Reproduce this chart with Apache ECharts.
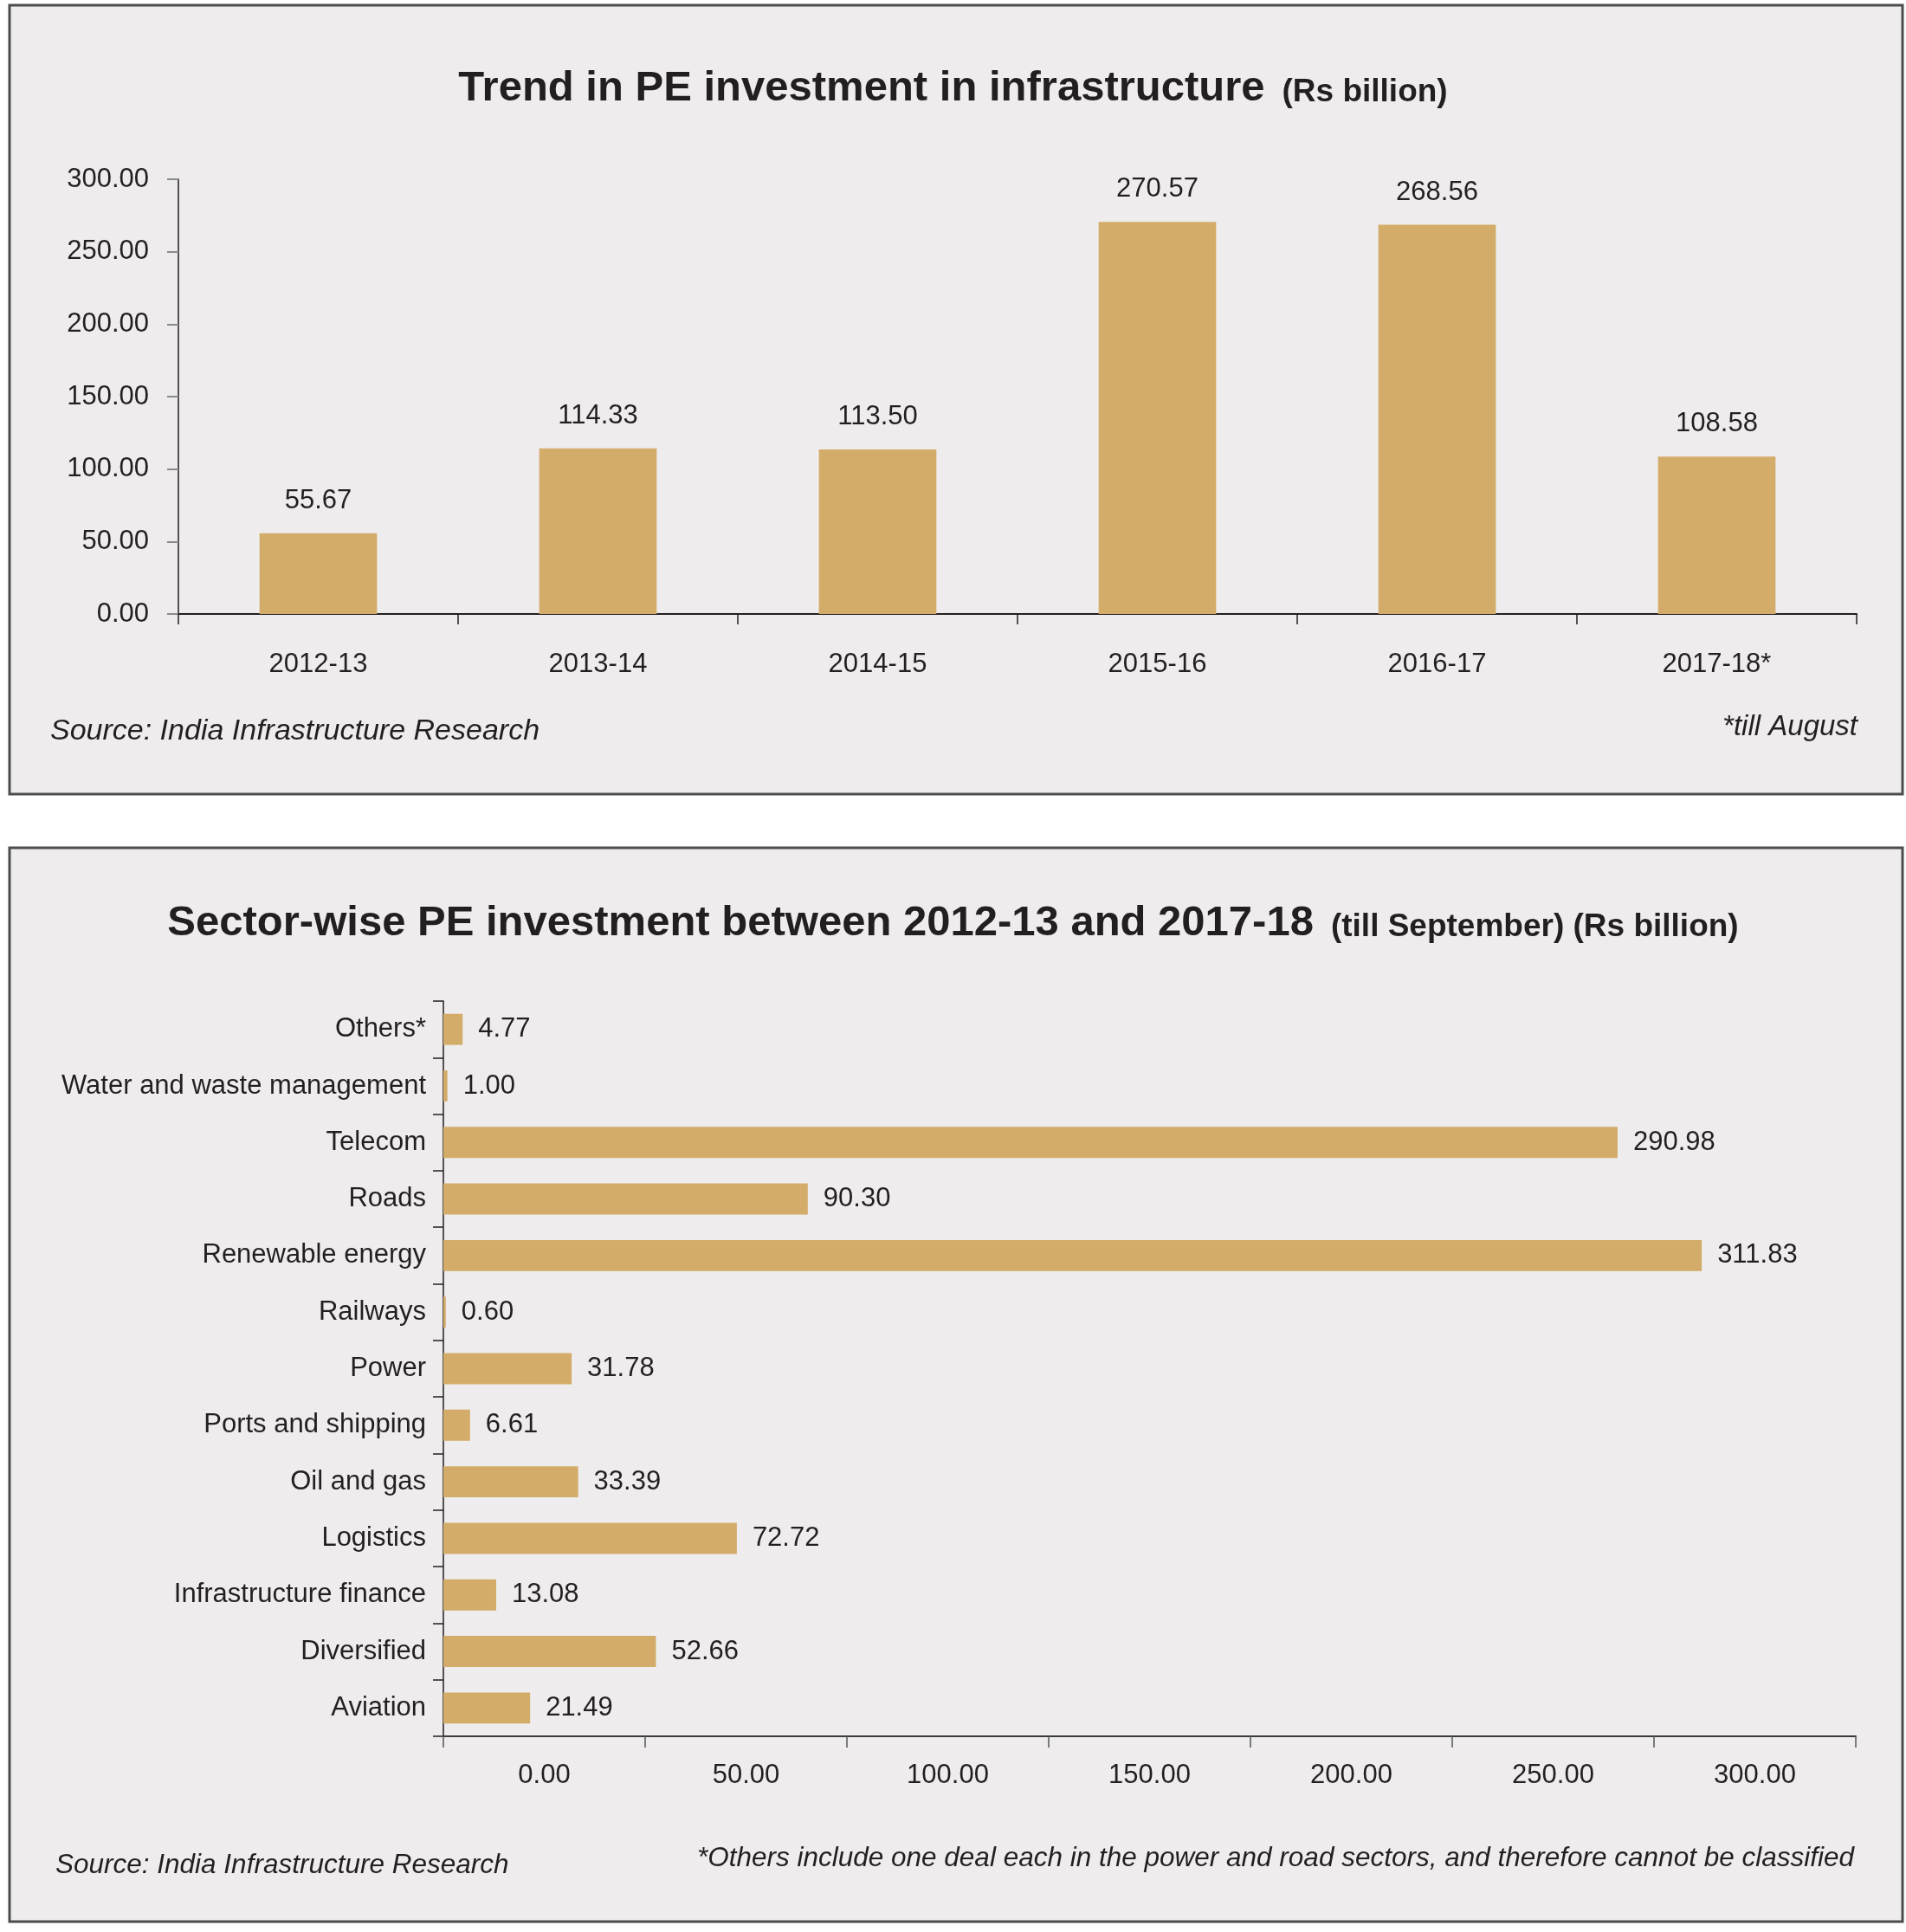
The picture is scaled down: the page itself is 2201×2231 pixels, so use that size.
<!DOCTYPE html>
<html>
<head>
<meta charset="utf-8">
<script src="https://cdn.jsdelivr.net/npm/echarts@6/dist/echarts.min.js"></script>
<style>
html,body{margin:0;padding:0;background:#ffffff;}
#chart{width:2201px;height:2231px;}
</style>
</head>
<body>
<div id="chart"></div>
<script>
// ---- Data ----
var yearCategories = ['2012-13', '2013-14', '2014-15', '2015-16', '2016-17', '2017-18*'];
var yearValues = [55.67, 114.33, 113.50, 270.57, 268.56, 108.58];

var sectorCategories = ['Others*', 'Water and waste management', 'Telecom', 'Roads', 'Renewable energy',
  'Railways', 'Power', 'Ports and shipping', 'Oil and gas', 'Logistics', 'Infrastructure finance',
  'Diversified', 'Aviation'];
var sectorValues = [4.77, 1.00, 290.98, 90.30, 311.83, 0.60, 31.78, 6.61, 33.39, 72.72, 13.08, 52.66, 21.49];

var topYTicks = [0, 50, 100, 150, 200, 250, 300];
var bottomXTicks = [0, 50, 100, 150, 200, 250, 300];

// ---- Styles ----
var FONT = "'Liberation Sans', Arial, sans-serif";
var TXT = '#231f20';
var BAR = '#d3ac69';
var PANEL = '#eeeced';

var chart = echarts.init(document.getElementById('chart'), null, {renderer: 'canvas'});

var titleRich = {
  a: {fontFamily: FONT, fontWeight: 'bold', fontSize: 49, color: TXT},
  b: {fontFamily: FONT, fontWeight: 'bold', fontSize: 37, color: TXT, padding: [9, 0, 0, 20]}
};

var option = {
  backgroundColor: '#ffffff',
  animation: false,
  graphic: [
    {type: 'rect', z: -10, shape: {x: 11, y: 6, width: 2186, height: 911},
     style: {fill: PANEL, stroke: '#4d4d4d', lineWidth: 3}},
    {type: 'rect', z: -10, shape: {x: 11, y: 979, width: 2186, height: 1240},
     style: {fill: PANEL, stroke: '#4d4d4d', lineWidth: 3}}
  ],
  title: [
    {
      text: '{a|Trend in PE investment in infrastructure}{b|(Rs billion)}',
      left: 'center', top: 73,
      textStyle: {rich: titleRich}
    },
    {
      text: '{a|Sector-wise PE investment between 2012-13 and 2017-18}{b|(till September) (Rs billion)}',
      left: 'center', top: 1037,
      textStyle: {rich: titleRich}
    },
    {text: 'Source: India Infrastructure Research', left: 53, top: 823,
     textStyle: {fontFamily: FONT, fontStyle: 'italic', fontWeight: 'normal', fontSize: 34, color: TXT}},
    {text: '*till August', right: 51, top: 818,
     textStyle: {fontFamily: FONT, fontStyle: 'italic', fontWeight: 'normal', fontSize: 33, color: TXT}},
    {text: 'Source: India Infrastructure Research', left: 59, top: 2133,
     textStyle: {fontFamily: FONT, fontStyle: 'italic', fontWeight: 'normal', fontSize: 31.5, color: TXT}},
    {text: '*Others include one deal each in the power and road sectors, and therefore cannot be classified', right: 55, top: 2125,
     textStyle: {fontFamily: FONT, fontStyle: 'italic', fontWeight: 'normal', fontSize: 31.5, color: TXT}}
  ],
  grid: [
    {left: 206, right: 57, top: 207, height: 502, containLabel: false, outerBoundsMode: 'none'},
    {left: 512, right: 58, top: 1156, height: 849, containLabel: false, outerBoundsMode: 'none'}
  ],
  xAxis: [
    {
      gridIndex: 0, type: 'category', data: yearCategories, boundaryGap: true,
      axisLine: {show: true, lineStyle: {color: TXT, width: 2}},
      axisTick: {show: true, length: 12, lineStyle: {color: TXT, width: 1.5}},
      axisLabel: {margin: 43, fontFamily: FONT, fontSize: 31, color: TXT, interval: 0},
      splitLine: {show: false}
    },
    {
      gridIndex: 1, type: 'value', min: 0, max: 350, interval: 50,
      axisLine: {show: true, lineStyle: {color: '#3a3a3a', width: 2}},
      axisTick: {show: true, length: 13, lineStyle: {color: '#555', width: 1.5}},
      axisLabel: {
        margin: 30, fontFamily: FONT, fontSize: 31, color: TXT,
        padding: [0, 0, 0, 233],
        formatter: function (v) { return bottomXTicks.indexOf(v) >= 0 ? v.toFixed(2) : ''; }
      },
      splitLine: {show: false}
    }
  ],
  yAxis: [
    {
      gridIndex: 0, type: 'value', min: 0, max: 300, interval: 50,
      axisLine: {show: true, lineStyle: {color: TXT, width: 1.5}},
      axisTick: {show: true, length: 13, lineStyle: {color: '#8a8a8a', width: 2}},
      axisLabel: {
        margin: 34, fontFamily: FONT, fontSize: 31, color: TXT,
        formatter: function (v) { return topYTicks.indexOf(v) >= 0 ? v.toFixed(2) : ''; }
      },
      splitLine: {show: false}
    },
    {
      gridIndex: 1, type: 'category', data: sectorCategories, inverse: true, boundaryGap: true,
      axisLine: {show: true, lineStyle: {color: TXT, width: 1.5}},
      axisTick: {show: true, length: 12, lineStyle: {color: TXT, width: 1.5}},
      axisLabel: {margin: 20, fontFamily: FONT, fontSize: 31, color: TXT, interval: 0},
      splitLine: {show: false}
    }
  ],
  series: [
    {
      type: 'bar', xAxisIndex: 0, yAxisIndex: 0, data: yearValues, barWidth: '42%',
      itemStyle: {color: BAR},
      label: {show: true, position: 'top', distance: 22, fontFamily: FONT, fontSize: 31, color: TXT,
        formatter: function (p) { return p.value.toFixed(2); }}
    },
    {
      type: 'bar', xAxisIndex: 1, yAxisIndex: 1, data: sectorValues, barWidth: '55%',
      itemStyle: {color: BAR},
      label: {show: true, position: 'right', distance: 18, fontFamily: FONT, fontSize: 31, color: TXT,
        formatter: function (p) { return p.value.toFixed(2); }}
    }
  ]
};
chart.setOption(option);
</script>
</body>
</html>
